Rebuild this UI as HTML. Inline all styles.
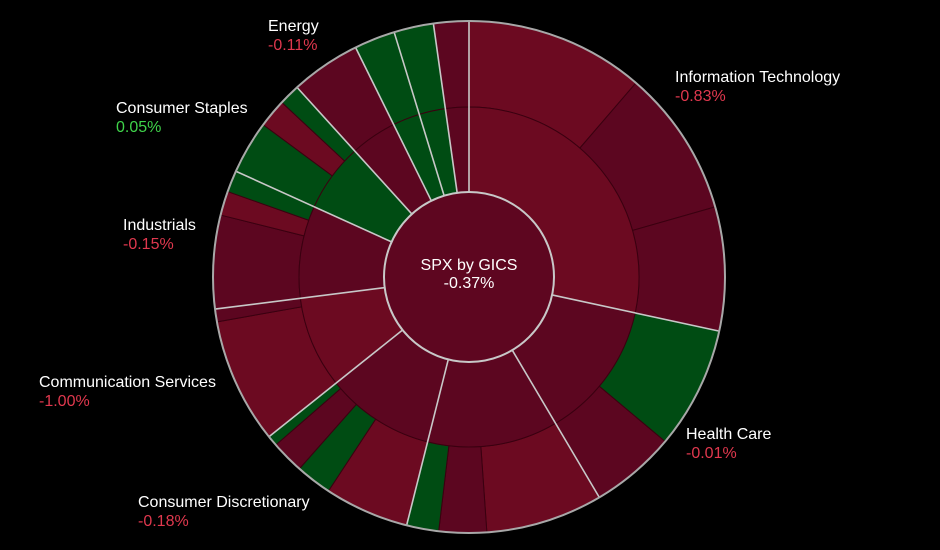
<!DOCTYPE html>
<html><head><meta charset="utf-8"><style>
body{margin:0;background:#000;}
svg{display:block;font-family:"Liberation Sans",sans-serif;}
</style></head><body>
<svg id="chart" width="940" height="550" viewBox="0 0 940 550">
<rect width="940" height="550" fill="#000"/>
<g id="rings"></g>
<g id="labels"></g>
</svg>
<script>
const sectorNames = ["Information Technology","Health Care","Financials","Consumer Discretionary","Communication Services","Industrials","Consumer Staples","Energy","Utilities","Real Estate","Materials"];
const sectorReturns = ["-0.83%","-0.01%","","-0.18%","-1.00%","-0.15%","0.05%","-0.11%","","",""];
const sectorColors = ["b","d","d","d","b","d","g","d","g","g","d"];
const leafSector = [0,0,0, 1,1, 2,2,2, 3,3,3,3, 4,4, 5,5,5, 6,6,6, 7, 8, 9, 10];
const leafWeights = [40.7,33.4,28.1, 27.8,19.4, 26.6,10.8,7.3, 19.2,8.2,7.5,2.4, 28.5,2.9, 21.2,5.5,4.9, 12.1,6.5,4.8, 15.9, 9.3, 9.0, 8.0];
const leafColors = ["b","d","d", "g","d", "b","d","g", "b","g","d","g", "b","d", "d","b","g", "g","b","g", "d", "g", "g", "d"];
const totalLabel = "SPX by GICS";
const totalReturn = "-0.37%";
const labelPos = {0:[675,76],1:[686,433],3:[138,501],4:[39,381],5:[123,224],6:[116,107],7:[268,25]};

const CX=469, CY=277, R0=85, R1=170, R2=256;
const COL={b:"#6c0a21",d:"#5c0620",g:"#004c13"};
const NS="http://www.w3.org/2000/svg";
const rings=document.getElementById('rings');
const labels=document.getElementById('labels');
const total=leafWeights.reduce((a,b)=>a+b,0);
function ang(v){return v/total*2*Math.PI;}
function pt(r,a){return [CX+r*Math.sin(a),CY-r*Math.cos(a)];}
function arc(r0,r1,a0,a1){
  const l=(a1-a0)>Math.PI?1:0;
  const [x0,y0]=pt(r1,a0),[x1,y1]=pt(r1,a1),[x2,y2]=pt(r0,a1),[x3,y3]=pt(r0,a0);
  return `M${x0},${y0}A${r1},${r1} 0 ${l} 1 ${x1},${y1}L${x2},${y2}A${r0},${r0} 0 ${l} 0 ${x3},${y3}Z`;
}
// sector spans
const secStart=[],secEnd=[];
let acc=0;
leafWeights.forEach((w,i)=>{const s=leafSector[i];if(secStart[s]===undefined)secStart[s]=acc;acc+=w;secEnd[s]=acc;});
// leaves
acc=0;
leafWeights.forEach((w,i)=>{
  const p=document.createElementNS(NS,'path');
  p.setAttribute('d',arc(R1,R2,ang(acc),ang(acc+w)));
  p.setAttribute('fill',COL[leafColors[i]]);
  p.setAttribute('stroke','#3a0010');p.setAttribute('stroke-width','1');
  
  
  rings.appendChild(p);acc+=w;
});
// sectors middle ring
sectorNames.forEach((n,s)=>{
  const p=document.createElementNS(NS,'path');
  p.setAttribute('d',arc(R0,R1,ang(secStart[s]),ang(secEnd[s])));
  p.setAttribute('fill',COL[sectorColors[s]]);
  p.setAttribute('stroke','#3a0010');p.setAttribute('stroke-width','1');
  
  
  rings.appendChild(p);
});
// sector boundary lines
sectorNames.forEach((n,s)=>{
  const a=ang(secStart[s]);const [x0,y0]=pt(R0,a),[x1,y1]=pt(R2,a);
  const l=document.createElementNS(NS,'line');
  l.setAttribute('x1',x0);l.setAttribute('y1',y0);l.setAttribute('x2',x1);l.setAttribute('y2',y1);
  l.setAttribute('stroke','#c8c8c8');l.setAttribute('stroke-width','1.6');
  
  
  rings.appendChild(l);
});
// outer circle
const oc=document.createElementNS(NS,'circle');
oc.setAttribute('cx',CX);oc.setAttribute('cy',CY);oc.setAttribute('r',R2);oc.setAttribute('fill','none');oc.setAttribute('stroke','#a8a8a8');oc.setAttribute('stroke-width','2');


rings.appendChild(oc);
// center
const cc=document.createElementNS(NS,'circle');
cc.setAttribute('cx',CX);cc.setAttribute('cy',CY);cc.setAttribute('r',R0);cc.setAttribute('fill','#5e0620');cc.setAttribute('stroke','#c8c8c8');cc.setAttribute('stroke-width','2');


rings.appendChild(cc);
function txt(x,y,s,fill,anchor,name){
  const t=document.createElementNS(NS,'text');
  t.setAttribute('x',x);t.setAttribute('y',y);t.setAttribute('fill',fill);t.setAttribute('font-size','16');
  if(anchor)t.setAttribute('text-anchor',anchor);
  t.textContent=s;
  
  
  labels.appendChild(t);
}
txt(CX,270,totalLabel,'#fff','middle','center-title');
txt(CX,288,totalReturn,'#fff','middle','center-return');
Object.keys(labelPos).forEach(k=>{
  const [x,y]=labelPos[k];const r=sectorReturns[k];
  txt(x,y+6,sectorNames[k],'#fff',null,'label-'+sectorNames[k].toLowerCase().replace(/ /g,'-'));
  txt(x,y+25,r,r.startsWith('-')?'#e0384e':'#3fd34a',null,'return-'+sectorNames[k].toLowerCase().replace(/ /g,'-'));
});
</script>
</body></html>
